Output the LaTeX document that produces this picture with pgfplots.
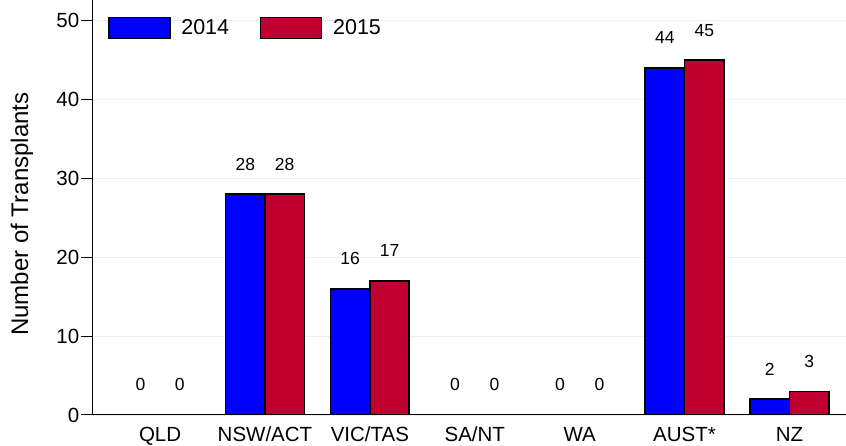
\documentclass[border=0pt]{standalone}
\usepackage{fontspec}
\setmainfont{Liberation Sans}
\usepackage{pgfplots}
\pgfplotsset{compat=1.18}
\definecolor{cblue}{RGB}{0,0,255}
\definecolor{cred}{RGB}{193,0,50}
\definecolor{gridc}{RGB}{232,240,241}
\begin{document}
\begin{tikzpicture}
\useasboundingbox (0,0) rectangle (846pt,446pt);
\begin{axis}[
  at={(92pt,31pt)}, anchor=south west,
  scale only axis, width=754pt, height=415pt,
  xmin=-0.649, xmax=6.539, ymin=0, ymax=52.62,
  axis x line*=bottom, axis y line*=left,
  axis line style={black, line width=1pt, -},
  ybar=0pt, bar width=39.4pt,
  xtick={0,1,2,3,4,5,6},
  xticklabels={QLD,NSW/ACT,VIC/TAS,SA/NT,WA,AUST*,NZ},
  ytick={0,10,20,30,40,50},
  ymajorgrids, grid style={gridc, line width=0.8pt},
  xtick style={draw=none},
  ytick style={black, line width=1pt},
  tick align=outside, major tick length=11pt,
  /pgf/number format/assume math mode=true,
  ticklabel style={font=\fontsize{20.5}{24}\selectfont},
  xticklabel style={anchor=base, inner sep=0pt, yshift=-16pt},
  yticklabel style={inner sep=1.5pt},
  ylabel={Number of Transplants},
  ylabel style={at={(axis description cs:-0.0928,0.484)}, anchor=center, font=\fontsize{24}{28}\selectfont},
  nodes near coords,
  every node near coord/.append style={font=\fontsize{17.5}{20}\selectfont, anchor=base, inner sep=0pt, yshift=24pt, black},
  legend columns=2,
  legend style={at={(axis description cs:0,1)}, anchor=north west, xshift=16pt, yshift=-16.7pt,
    draw=none, fill=none, inner sep=0pt, outer sep=0pt,
    font=\fontsize{21.5}{24}\selectfont,
    nodes={inner sep=0pt},
    /tikz/every odd column/.append style={column sep=10.7pt},
    /tikz/every even column/.append style={column sep=30.7pt}},
]
\addplot[fill=cblue, draw=black, line width=1.6pt,
  legend image code/.code={\draw[fill=cblue, draw=black, line width=1.6pt] (0pt,-10.5pt) rectangle (61pt,10.5pt);}]
  coordinates {(0,0) (1,28) (2,16) (3,0) (4,0) (5,44) (6,2)};
\addplot[fill=cred, draw=black, line width=1.6pt,
  legend image code/.code={\draw[fill=cred, draw=black, line width=1.6pt] (0pt,-10.5pt) rectangle (61pt,10.5pt);}]
  coordinates {(0,0) (1,28) (2,17) (3,0) (4,0) (5,45) (6,3)};
\legend{2014,2015}
\end{axis}
\end{tikzpicture}
\end{document}
